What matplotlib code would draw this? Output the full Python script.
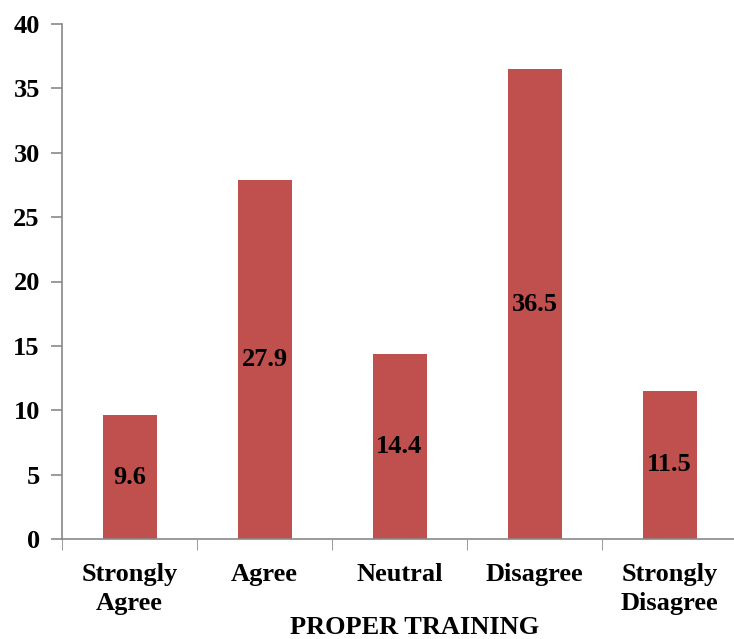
import matplotlib.pyplot as plt

categories = ["Strongly\nAgree", "Agree", "Neutral", "Disagree", "Strongly\nDisagree"]
values = [9.6, 27.9, 14.4, 36.5, 11.5]
yticks = [0, 5, 10, 15, 20, 25, 30, 35, 40]

plt.rcParams["font.family"] = ["Liberation Serif", "DejaVu Serif"]
plt.rcParams["font.weight"] = "bold"
fs = 19

fig = plt.figure(figsize=(7.34, 6.39), dpi=100)
ax = fig.add_axes([62 / 734, 1 - 539 / 639, 675 / 734, 515 / 639])

x = range(len(categories))
bars = ax.bar(x, values, width=0.4, color="#C0504D", zorder=2)
for b, v in zip(bars, values):
    ax.text(b.get_x() + b.get_width() / 2, v / 2, f"{v:.1f}",
            ha="center", va="center", fontsize=fs, fontweight="bold")

ax.set_xlim(-0.5, len(categories) - 0.5)
ax.set_ylim(0, 40)
ax.set_yticks(yticks)
ax.set_yticklabels([str(t) for t in yticks], fontsize=fs, fontweight="bold")
ax.set_xticks(x)
ax.set_xticklabels(categories, fontsize=fs, fontweight="bold", linespacing=1.35)
ax.tick_params(axis="x", length=0, pad=17)
ax.set_xticks([i - 0.5 for i in range(len(categories) + 1)], minor=True)
ax.tick_params(axis="x", which="minor", length=8, color="#898989", direction="out")
ax.tick_params(axis="y", length=8, color="#898989", width=1.2, pad=8)

for s in ["top", "right"]:
    ax.spines[s].set_visible(False)
for s in ["left", "bottom"]:
    ax.spines[s].set_color("#898989")
    ax.spines[s].set_linewidth(1.2)

fig.text(0.565, 1 - 628 / 639, "PROPER TRAINING", ha="center", va="center",
         fontsize=fs, fontweight="bold")

fig.savefig("out.png", dpi=100)
